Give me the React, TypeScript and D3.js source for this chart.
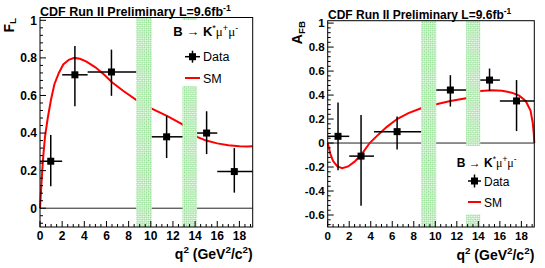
import React from "react";
import * as d3 from "d3";

// ---- data ----
const binLow = [0, 2, 4.3, 10.09, 14.18, 16];
const binHigh = [2, 4.3, 8.68, 12.86, 16, 19.2];

const flQ = [0.97, 3.15, 6.45, 11.43, 15.04, 17.54];
const flVal = [0.25, 0.71, 0.725, 0.38, 0.4, 0.195];
const flLow = [0.117, 0.542, 0.598, 0.267, 0.288, 0.083];
const flHigh = [0.39, 0.863, 0.844, 0.49, 0.516, 0.32];

const afbQ = [0.96, 3.1, 6.45, 11.4, 15.04, 17.55];
const afbVal = [0.056, -0.109, 0.095, 0.442, 0.525, 0.351];
const afbLow = [-0.227, -0.522, -0.054, 0.304, 0.434, 0.1];
const afbHigh = [0.337, 0.233, 0.221, 0.566, 0.621, 0.525];

const smFlQ = [0, 0.1, 0.2, 0.3, 0.45, 0.7, 1.0, 1.3, 1.7, 2.1, 2.6, 3.1, 3.6, 4.2, 5.0, 5.8, 6.5, 7.5, 8.68, 10.09, 11.5, 12.86, 14.18, 15, 16, 17, 18, 18.7, 19.2];
const smFlVal = [0, 0.1, 0.2, 0.28, 0.38, 0.48, 0.58, 0.66, 0.72, 0.765, 0.79, 0.8, 0.795, 0.78, 0.75, 0.71, 0.67, 0.625, 0.577, 0.53, 0.49, 0.446, 0.38, 0.36, 0.345, 0.335, 0.33, 0.328, 0.33];

const smAfbQ = [0, 0.25, 0.5, 0.9, 1.35, 1.9, 2.5, 3.1, 3.9, 4.7, 5.5, 6.45, 7.5, 8.68, 10.09, 11.4, 12.86, 14.18, 15.3, 16.2, 17.1, 17.8, 18.4, 18.85, 19.05, 19.15, 19.2];
const smAfbVal = [0, -0.09, -0.15, -0.195, -0.21, -0.195, -0.155, -0.1, 0, 0.07, 0.135, 0.2, 0.25, 0.29, 0.324, 0.351, 0.373, 0.434, 0.44, 0.435, 0.42, 0.395, 0.351, 0.27, 0.17, 0.08, 0];

const vetoLow = [8.68, 12.86];
const vetoHigh = [10.09, 14.18];

const xTicks = [0, 2, 4, 6, 8, 10, 12, 14, 16, 18];
const xTickLabels = ["0", "2", "4", "6", "8", "10", "12", "14", "16", "18"];
const flTicks = [0, 0.2, 0.4, 0.6, 0.8, 1];
const flTickLabels = ["0", "0.2", "0.4", "0.6", "0.8", "1"];
const afbTicks = [-0.6, -0.4, -0.2, 0, 0.2, 0.4, 0.6, 0.8, 1];
const afbTickLabels = ["-0.6", "-0.4", "-0.2", "0", "0.2", "0.4", "0.6", "0.8", "1"];

const SANS = "'Liberation Sans', Arial, Helvetica, sans-serif";
const SERIF = "'Liberation Serif', 'DejaVu Serif', serif";

type PanelProps = {
  id: string;
  x0: number; x1: number; y0: number; y1: number;
  yDomain: [number, number];
  yTicks: number[]; yTickLabels: string[];
  minorRange: [number, number];
  q: number[]; val: number[]; lo: number[]; hi: number[];
  smQ: number[]; smV: number[];
  tickFont: number;
  title: { x: number; y: number; size: number };
  ytitle: { x: number; y: number; main: string; sub: string; size: number };
  xtitle: { y: number; size: number };
  legend: { bx0: number; by0: number; bx1: number; by1: number; tx: number; ty: number; size: number; mx: number; dataY: number; smY: number; dsize: number; hw: number; vh: number };
};

function Panel(p: PanelProps) {
  const x = d3.scaleLinear().domain([0, 19.2]).range([p.x0, p.x1]);
  const y = d3.scaleLinear().domain(p.yDomain).range([p.y1, p.y0]);
  const line = d3.line<number>().x((_, i) => x(p.smQ[i])).y((d) => y(d));
  const majorLen = 6, minorLen = 3;
  const xMinor = d3.range(0, 39).map((i) => i * 0.5).filter((v) => v <= 19.2 && v % 2 !== 0);
  const yMinor = d3.range(p.minorRange[0], p.minorRange[1] + 1).map((i) => i * 0.04)
    .filter((v) => Math.abs(Math.round(v * 5) - v * 5) > 1e-6);
  const L = p.legend;
  return (
    <g>
      <defs>
        <pattern id={"hatch" + p.id} width="3" height="3" patternUnits="userSpaceOnUse" patternTransform="rotate(45)">
          <rect width="3" height="3" fill="#ffffff" />
          <rect width="1.5" height="1.5" fill="#86dc86" />
          <rect x="1.5" y="1.5" width="1.5" height="1.5" fill="#86dc86" />
        </pattern>
      </defs>
      <line x1={p.x0} x2={p.x1} y1={y(0)} y2={y(0)} stroke="#222" strokeWidth={1} />
      <path d={line(p.smV) || ""} fill="none" stroke="#ff0000" strokeWidth={2} />
      {vetoLow.map((v, i) => (
        <rect key={i} x={x(v)} width={x(vetoHigh[i]) - x(v)} y={p.y0} height={p.y1 - p.y0} fill={`url(#hatch${p.id})`} />
      ))}
      <rect x={L.bx0} y={L.by0} width={L.bx1 - L.bx0} height={L.by1 - L.by0} fill="#fff" />
      <text x={L.tx} y={L.ty} fontFamily={SANS} fontSize={L.size}>
        <tspan fontWeight="bold">B → K</tspan>
        <tspan fontSize={L.size * 0.7} dy={-L.size * 0.4}>*</tspan>
        <tspan fontFamily={SERIF} dy={L.size * 0.4}>μ</tspan>
        <tspan fontSize={L.size * 0.7} dy={-L.size * 0.4}>+</tspan>
        <tspan fontFamily={SERIF} dy={L.size * 0.4}>μ</tspan>
        <tspan fontSize={L.size * 0.7} dy={-L.size * 0.4}>-</tspan>
      </text>
      <line x1={L.mx - L.hw} x2={L.mx + L.hw} y1={L.dataY} y2={L.dataY} stroke="#000" strokeWidth={1.5} />
      <line x1={L.mx} x2={L.mx} y1={L.dataY - L.vh} y2={L.dataY + L.vh} stroke="#000" strokeWidth={1.5} />
      <rect x={L.mx - 3.5} y={L.dataY - 3.5} width={7} height={7} fill="#000" />
      <text x={L.mx + L.hw + 3} y={L.dataY + 4.5} fontFamily={SANS} fontSize={L.dsize}>Data</text>
      <line x1={L.mx - L.hw} x2={L.mx + L.hw} y1={L.smY} y2={L.smY} stroke="#ff0000" strokeWidth={2} />
      <text x={L.mx + L.hw + 3} y={L.smY + 4.5} fontFamily={SANS} fontSize={L.dsize}>SM</text>
      {p.q.map((qv, i) => (
        <g key={i}>
          <line x1={x(binLow[i])} x2={x(binHigh[i])} y1={y(p.val[i])} y2={y(p.val[i])} stroke="#000" strokeWidth={1.5} />
          <line x1={x(qv)} x2={x(qv)} y1={y(p.lo[i])} y2={y(p.hi[i])} stroke="#000" strokeWidth={1.5} />
          <rect x={x(qv) - 3.5} y={y(p.val[i]) - 3.5} width={7} height={7} fill="#000" />
        </g>
      ))}
      <rect x={p.x0} y={p.y0} width={p.x1 - p.x0} height={p.y1 - p.y0} fill="none" stroke="#000" strokeWidth={1} />
      {xTicks.map((t, i) => (
        <g key={"xt" + i}>
          <line x1={x(t)} x2={x(t)} y1={p.y1} y2={p.y1 - majorLen} stroke="#000" />
          <text x={x(t)} y={p.y1 + 13} textAnchor="middle" fontFamily={SANS} fontWeight="bold" fontSize={p.tickFont}>{xTickLabels[i]}</text>
        </g>
      ))}
      {xMinor.map((t, i) => (
        <line key={"xm" + i} x1={x(t)} x2={x(t)} y1={p.y1} y2={p.y1 - minorLen} stroke="#000" />
      ))}
      {p.yTicks.map((t, i) => (
        <g key={"yt" + i}>
          <line x1={p.x0} x2={p.x0 + majorLen} y1={y(t)} y2={y(t)} stroke="#000" />
          <text x={p.x0 - 3} y={y(t) + p.tickFont * 0.36} textAnchor="end" fontFamily={SANS} fontWeight="bold" fontSize={p.tickFont}>{p.yTickLabels[i]}</text>
        </g>
      ))}
      {yMinor.map((t, i) => (
        <line key={"ym" + i} x1={p.x0} x2={p.x0 + minorLen} y1={y(t)} y2={y(t)} stroke="#000" />
      ))}
      <text x={p.title.x} y={p.title.y} fontFamily={SANS} fontWeight="bold" fontSize={p.title.size}>
        CDF Run II Preliminary L=9.6fb
        <tspan fontSize={p.title.size * 0.7} dy={-p.title.size * 0.4}>-1</tspan>
      </text>
      <text transform={`translate(${p.ytitle.x},${p.ytitle.y}) rotate(-90)`} textAnchor="end" fontFamily={SANS} fontWeight="bold" fontSize={p.ytitle.size}>
        {p.ytitle.main}
        <tspan fontSize={p.ytitle.size * 0.7} dy={p.ytitle.size * 0.2}>{p.ytitle.sub}</tspan>
      </text>
      <text x={p.x1} y={p.xtitle.y} textAnchor="end" fontFamily={SANS} fontWeight="bold" fontSize={p.xtitle.size}>
        q<tspan fontSize={p.xtitle.size * 0.7} dy={-p.xtitle.size * 0.4}>2</tspan>
        <tspan dy={p.xtitle.size * 0.4}> (GeV</tspan>
        <tspan fontSize={p.xtitle.size * 0.7} dy={-p.xtitle.size * 0.4}>2</tspan>
        <tspan dy={p.xtitle.size * 0.4}>/c</tspan>
        <tspan fontSize={p.xtitle.size * 0.7} dy={-p.xtitle.size * 0.4}>2</tspan>
        <tspan dy={p.xtitle.size * 0.4}>)</tspan>
      </text>
    </g>
  );
}

export default function App() {
  return (
    <svg width={545} height={268} style={{ position: "absolute", left: 0, top: 0, background: "#fff" }}>
      <rect width={545} height={268} fill="#fff" />
      <Panel
        id="L"
        x0={40} x1={252.7} y0={17.5} y1={227}
        yDomain={[-0.1, 1.015]}
        yTicks={flTicks} yTickLabels={flTickLabels}
        minorRange={[-2, 25]}
        q={flQ} val={flVal} lo={flLow} hi={flHigh}
        smQ={smFlQ} smV={smFlVal}
        tickFont={12}
        title={{ x: 40, y: 16, size: 12.5 }}
        ytitle={{ x: 13.5, y: 18, main: "F", sub: "L", size: 14 }}
        xtitle={{ y: 259, size: 14 }}
        legend={{ bx0: 165, by0: 20, bx1: 252, by1: 86, tx: 173.3, ty: 36, size: 13, mx: 192.5, dataY: 56.7, smY: 78, dsize: 12.5, hw: 7.5, vh: 6 }}
      />
      <Panel
        id="R"
        x0={327.7} x1={534.3} y0={20.7} y1={227}
        yDomain={[-0.7, 1.02]}
        yTicks={afbTicks} yTickLabels={afbTickLabels}
        minorRange={[-17, 25]}
        q={afbQ} val={afbVal} lo={afbLow} hi={afbHigh}
        smQ={smAfbQ} smV={smAfbVal}
        tickFont={11.5}
        title={{ x: 328, y: 19, size: 12 }}
        ytitle={{ x: 302, y: 21, main: "A", sub: "FB", size: 14 }}
        xtitle={{ y: 260, size: 14 }}
        legend={{ bx0: 450, by0: 146, bx1: 533.5, by1: 214.5, tx: 456.7, ty: 166.7, size: 12, mx: 474.5, dataY: 181, smY: 202, dsize: 12, hw: 6.5, vh: 6.5 }}
      />
    </svg>
  );
}
